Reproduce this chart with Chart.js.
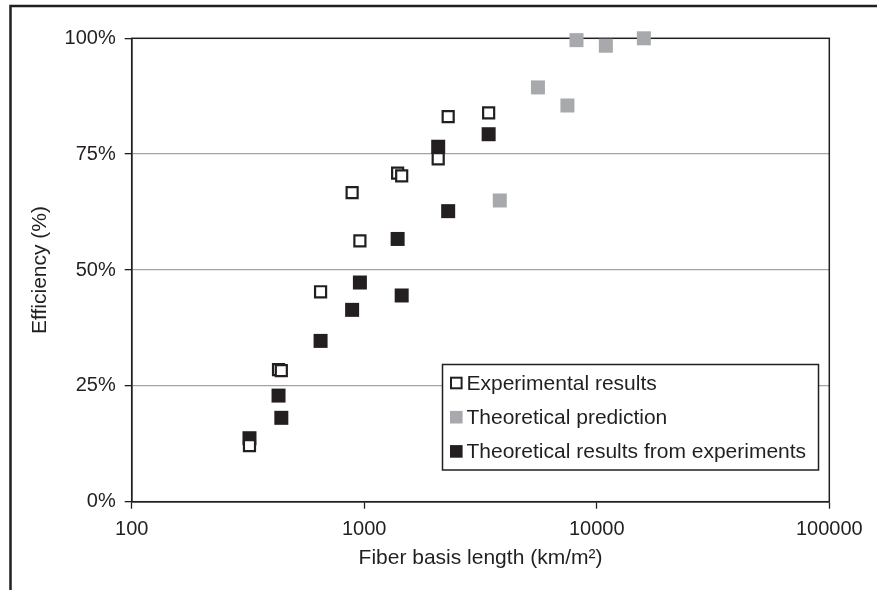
<!DOCTYPE html>
<html>
<head>
<meta charset="utf-8">
<script src="https://cdn.jsdelivr.net/npm/chart.js@4.4.1/dist/chart.umd.min.js"></script>
<style>
    html, body { margin: 0; padding: 0; background: #fff; }
    canvas { display: block; }
</style>
</head>
<body>
<canvas id="efficiency-chart" width="877" height="590"></canvas>
<script>
//datos
const fiberLength = [321, 428, 440, 649, 887, 958, 1392, 1449, 2080, 2296, 3428];
const experimentalResults = [12.1, 28.5, 28.3, 45.3, 66.7, 56.3, 70.9, 70.3, 74.0, 83.1, 83.9];
const theoreticalFromExperiments = [13.7, 22.9, 18.1, 34.7, 41.4, 47.3, 56.7, 44.5, 76.6, 62.7, 79.3];
const fiberLengthPrediction = [3828, 5585, 7479, 8181, 10940, 15940];
const theoreticalPrediction = [65.0, 89.4, 85.5, 99.6, 98.4, 100];
const seriesNames = [
    'Experimental results',
    'Theoretical prediction',
    'Theoretical results from experiments'
];
const xTicks = [100, 1000, 10000, 100000];
const yTicks = [0, 25, 50, 75, 100];

const ink = '#231f20';
const grey = '#a7a9ac';
const family = "'Liberation Sans', Arial, Helvetica, sans-serif";

function toPoints(xs, ys) {
    return xs.map((x, i) => ({ x: x, y: ys[i] }));
}

//marco, borde del area y leyenda
const chartFrame = {
    id: 'chartFrame',

    beforeDatasetsDraw(chart) {
        const { ctx, chartArea: a } = chart;
        ctx.save();
        ctx.strokeStyle = ink;
        ctx.lineWidth = 1.5;
        ctx.strokeRect(a.left, a.top, a.right - a.left, a.bottom - a.top);
        ctx.restore();
    },

    afterDraw(chart) {
        const ctx = chart.ctx;
        ctx.save();

        // outer frame (top and left only)
        ctx.strokeStyle = ink;
        ctx.lineWidth = 2.5;
        ctx.beginPath();
        ctx.moveTo(10.5, 590);
        ctx.lineTo(10.5, 6);
        ctx.lineTo(877, 6);
        ctx.stroke();

        // legend box
        const box = { left: 442.5, top: 364.5, right: 818.5, bottom: 470 };
        ctx.fillStyle = '#fff';
        ctx.fillRect(box.left, box.top, box.right - box.left, box.bottom - box.top);
        ctx.strokeStyle = ink;
        ctx.lineWidth = 1.5;
        ctx.strokeRect(box.left, box.top, box.right - box.left, box.bottom - box.top);

        ctx.font = '21px ' + family;
        ctx.textBaseline = 'alphabetic';
        ctx.textAlign = 'left';

        chart.data.datasets.forEach((ds, i) => {
            const cy = 383 + i * 34.2;
            const cx = 456.3;
            const s = 12.6;
            if (ds.pointBorderWidth > 0) {
                ctx.fillStyle = ds.pointBackgroundColor;
                ctx.fillRect(cx - s / 2, cy - s / 2, s, s);
                ctx.strokeStyle = ds.pointBorderColor;
                ctx.lineWidth = 2;
                ctx.strokeRect(cx - s / 2 + 1, cy - s / 2 + 1, s - 2, s - 2);
            } else {
                ctx.fillStyle = ds.pointBackgroundColor;
                ctx.fillRect(cx - s / 2, cy - s / 2, s, s);
            }
            ctx.fillStyle = ink;
            ctx.fillText(ds.label, 466.5, cy + 7);
        });

        ctx.restore();
    }
};

const ctx = document.getElementById('efficiency-chart');

new Chart(ctx, {
    type: 'scatter',

    data: {
        datasets: [{
            label: seriesNames[0],
            data: toPoints(fiberLength, experimentalResults),
            pointStyle: 'rect',
            pointRadius: 7.8,
            pointBackgroundColor: '#fff',
            pointBorderColor: ink,
            pointBorderWidth: 2.2,
            clip: false
        }, {
            label: seriesNames[1],
            data: toPoints(fiberLengthPrediction, theoreticalPrediction),
            pointStyle: 'rect',
            pointRadius: 9.9,
            pointBackgroundColor: grey,
            pointBorderColor: grey,
            pointBorderWidth: 0,
            clip: false
        }, {
            label: seriesNames[2],
            data: toPoints(fiberLength, theoreticalFromExperiments),
            pointStyle: 'rect',
            pointRadius: 9.9,
            pointBackgroundColor: ink,
            pointBorderColor: ink,
            pointBorderWidth: 0,
            clip: false
        }]
    },

    options: {

        responsive: false,

        animation: false,

        events: [],

        layout: {
            padding: { left: 0, top: 38.3, right: 47.7, bottom: 0 }
        },

        plugins: {
            legend: { display: false },
            tooltip: { enabled: false }
        },

        scales: {
            x: {
                type: 'logarithmic',
                min: 100,
                max: 100000,
                afterBuildTicks: (scale) => {
                    scale.ticks = xTicks.map(v => ({ value: v }));
                },
                afterFit: (scale) => {
                    scale.height = 88.3;
                },
                ticks: {
                    color: ink,
                    font: { family: family, size: 20 },
                    padding: 9,
                    maxRotation: 0,
                    autoSkip: false,
                    callback: (v) => String(v)
                },
                grid: {
                    drawOnChartArea: false,
                    tickLength: 7,
                    tickColor: ink,
                    tickWidth: 1.3
                },
                border: { color: ink, width: 1.5 },
                title: {
                    display: true,
                    text: 'Fiber basis length (km/m²)',
                    color: ink,
                    font: { family: family, size: 21 },
                    padding: { top: 0, bottom: 19 }
                }
            },
            y: {
                min: 0,
                max: 100,
                afterBuildTicks: (scale) => {
                    scale.ticks = yTicks.map(v => ({ value: v }));
                },
                afterFit: (scale) => {
                    scale.width = 131.7;
                },
                ticks: {
                    color: ink,
                    font: { family: family, size: 20 },
                    padding: 9,
                    callback: (v) => v + '%'
                },
                grid: {
                    color: (c) => (c.tick && c.tick.value > 0 && c.tick.value < 100) ? '#a3a3a3' : 'rgba(0,0,0,0)',
                    lineWidth: 1.3,
                    tickLength: 7,
                    tickColor: ink,
                    tickWidth: 1.3
                },
                border: { color: ink, width: 1.5 },
                title: {
                    display: true,
                    text: 'Efficiency (%)',
                    color: ink,
                    font: { family: family, size: 21 },
                    padding: { top: 28, bottom: 0 }
                }
            }
        }
    },

    plugins: [chartFrame]
});
</script>
</body>
</html>
